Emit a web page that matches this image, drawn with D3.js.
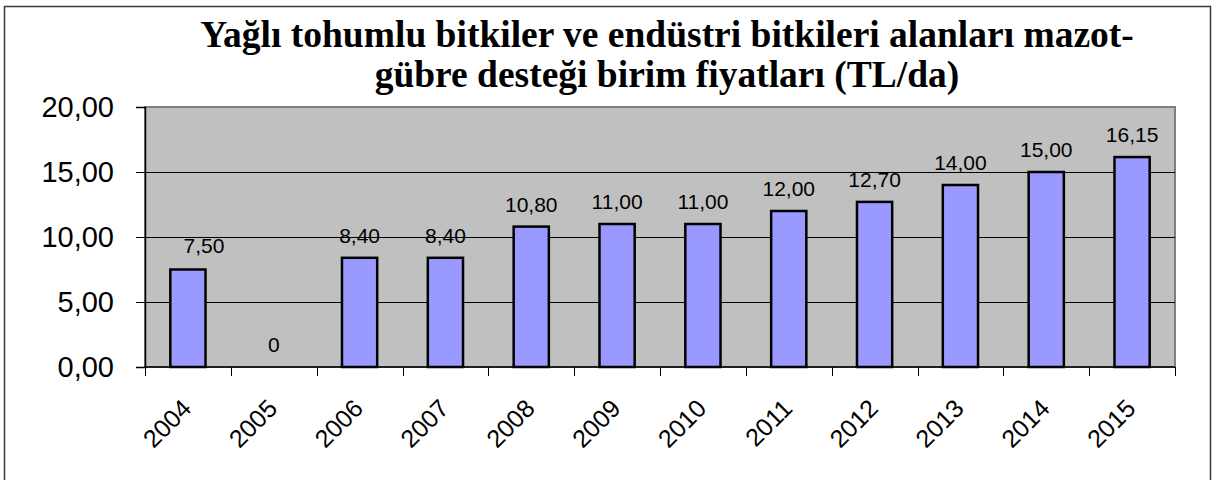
<!DOCTYPE html>
<html>
<head>
<meta charset="utf-8">
<script src="https://cdn.jsdelivr.net/npm/d3@7"></script>
<style>
  body { margin: 0; background: #fff; }
  svg { display: block; }
</style>
</head>
<body>
<div id="chart"></div>
<script>
// données
const years = ['2004', '2005', '2006', '2007', '2008', '2009', '2010', '2011', '2012', '2013', '2014', '2015']
const values = [7.5, 0, 8.4, 8.4, 10.8, 11.0, 11.0, 12.0, 12.7, 14.0, 15.0, 16.15]
const valueLabels = ['7,50', '0', '8,40', '8,40', '10,80', '11,00', '11,00', '12,00', '12,70', '14,00', '15,00', '16,15']
const yTicks = [0, 5, 10, 15, 20]
const titleLines = ['Yağlı tohumlu bitkiler ve endüstri bitkileri alanları mazot-', 'gübre desteği birim fiyatları (TL/da)']

const W = 1219, H = 480
const plot = { left: 145, top: 107, right: 1175, bottom: 367 }

const svg = d3.select('#chart').append('svg')
  .attr('width', W)
  .attr('height', H)

// cadre extérieur
svg.append('rect')
  .attr('x', 4.5).attr('y', 6.5)
  .attr('width', 1206).attr('height', 480)
  .attr('fill', '#fff')
  .attr('stroke', '#3a3a3a')
  .attr('stroke-width', 1.5)

// titre
svg.selectAll('.title')
  .data(titleLines)
  .enter()
  .append('text')
  .attr('class', 'title')
  .attr('x', 667)
  .attr('y', (d, i) => 47 + i * 40)
  .attr('text-anchor', 'middle')
  .style('font-family', '"Liberation Serif", "Times New Roman", serif')
  .style('font-weight', 'bold')
  .style('font-size', '37.5px')
  .text(d => d)

const x = d3.scaleBand()
  .domain(years)
  .range([plot.left, plot.right])
  .paddingInner(0.59)
  .paddingOuter(0.295)

const y = d3.scaleLinear()
  .domain([0, 20])
  .range([plot.bottom, plot.top])

// fond de la zone de tracé
svg.append('rect')
  .attr('x', plot.left).attr('y', plot.top)
  .attr('width', plot.right - plot.left)
  .attr('height', plot.bottom - plot.top)
  .attr('fill', '#c0c0c0')
  .attr('stroke', '#808080')
  .attr('stroke-width', 2)

// lignes de grille
svg.selectAll('.grid')
  .data(yTicks.filter(t => t > 0 && t < 20))
  .enter()
  .append('line')
  .attr('class', 'grid')
  .attr('x1', plot.left).attr('x2', plot.right)
  .attr('y1', d => Math.round(y(d)) + 0.5)
  .attr('y2', d => Math.round(y(d)) + 0.5)
  .attr('stroke', '#000')
  .attr('stroke-width', 1)

// barres
svg.selectAll('.bar')
  .data(values)
  .enter()
  .append('rect')
  .attr('class', 'bar')
  .attr('x', (d, i) => x(years[i]))
  .attr('y', d => y(d))
  .attr('width', x.bandwidth())
  .attr('height', d => y(0) - y(d))
  .attr('fill', d => d > 0 ? '#9999ff' : 'none')
  .attr('stroke', d => d > 0 ? '#000' : 'none')
  .attr('stroke-width', 2.5)

// étiquettes de valeurs (la première a été déplacée à la main dans l'original)
svg.selectAll('.vlabel')
  .data(values)
  .enter()
  .append('text')
  .attr('class', 'vlabel')
  .attr('x', (d, i) => x(years[i]) + x.bandwidth() / 2 + (i === 0 ? 16 : 0))
  .attr('y', (d, i) => y(d) - (i === 0 ? 17 : 15))
  .attr('text-anchor', 'middle')
  .style('font-family', '"Liberation Sans", Arial, sans-serif')
  .style('font-size', '21px')
  .text((d, i) => valueLabels[i])

// axe Y
const yAxis = d3.axisLeft(y)
  .tickValues(yTicks)
  .tickSize(9)
  .tickPadding(22)
  .tickFormat(d => d3.format('.2f')(d).replace('.', ','))

const gy = svg.append('g')
  .attr('transform', `translate(${plot.left},0)`)
  .call(yAxis)
gy.select('.domain').attr('stroke', '#000').attr('stroke-width', 1.5)
gy.selectAll('.tick line').attr('stroke', '#000')
gy.selectAll('.tick text')
  .style('font-family', '"Liberation Sans", Arial, sans-serif')
  .style('font-size', '29px')
  .attr('fill', '#000')

// axe X
const xTicks = d3.scaleLinear().domain([0, years.length]).range([plot.left, plot.right])
svg.append('line')
  .attr('x1', plot.left).attr('x2', plot.right)
  .attr('y1', plot.bottom).attr('y2', plot.bottom)
  .attr('stroke', '#000').attr('stroke-width', 1.5)
svg.selectAll('.xtick')
  .data(d3.range(years.length + 1))
  .enter()
  .append('line')
  .attr('class', 'xtick')
  .attr('x1', d => Math.round(xTicks(d)) + 0.5)
  .attr('x2', d => Math.round(xTicks(d)) + 0.5)
  .attr('y1', plot.bottom).attr('y2', plot.bottom + 9)
  .attr('stroke', '#000')

svg.selectAll('.xlabel')
  .data(years)
  .enter()
  .append('text')
  .attr('class', 'xlabel')
  .attr('transform', d => `translate(${x(d) + x.bandwidth() / 2 + 5},${plot.bottom + 43}) rotate(-45)`)
  .attr('text-anchor', 'end')
  .style('font-family', '"Liberation Sans", Arial, sans-serif')
  .style('font-size', '25px')
  .text(d => d)
</script>
</body>
</html>
